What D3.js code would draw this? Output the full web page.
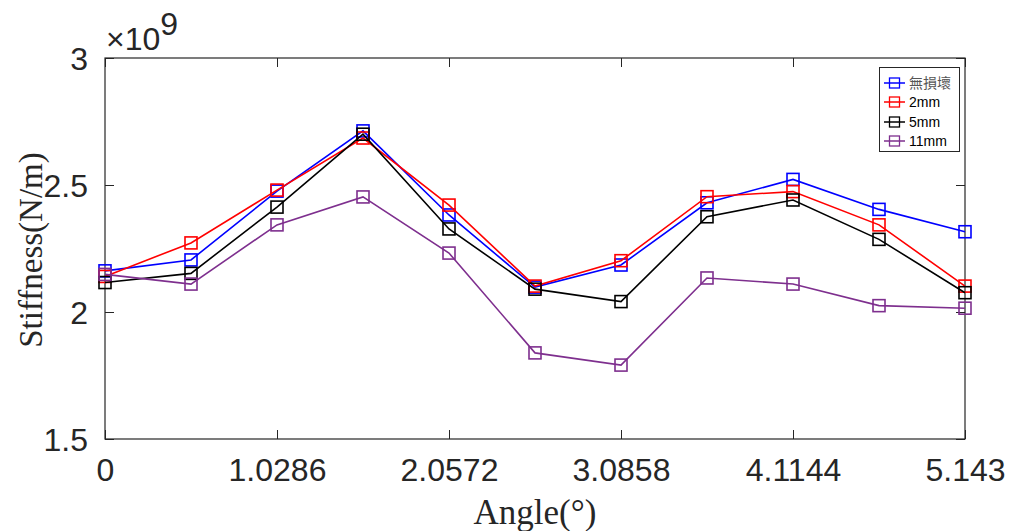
<!DOCTYPE html>
<html>
<head>
<meta charset="utf-8">
<script src="https://cdn.jsdelivr.net/npm/d3@7"></script>
<style>
  html, body { margin: 0; padding: 0; background: #fff; }
  svg { display: block; }
</style>
</head>
<body>
<svg id="chart" width="1013" height="531"></svg>
<script>
// Angle samples (degrees)
const angles = [0, 0.5143, 1.0286, 1.5429, 2.0572, 2.5715, 3.0858, 3.6001, 4.1144, 4.6287, 5.143];
const xTickValues = [0, 1.0286, 2.0572, 3.0858, 4.1144, 5.143];
const xTickLabels = ["0", "1.0286", "2.0572", "3.0858", "4.1144", "5.143"];
const yTickValues = [1.5, 2, 2.5, 3];
const yTickLabels = ["1.5", "2", "2.5", "3"];

// Stiffness in units of 1e9 N/m
const seriesNames = ["無損壞", "2mm", "5mm", "11mm"];
const seriesColors = ["#0000ff", "#ff0000", "#000000", "#7e2f8e"];
const intact = [2.162, 2.205, 2.476, 2.713, 2.382, 2.098, 2.185, 2.430, 2.522, 2.404, 2.316];
const crack2 = [2.140, 2.272, 2.480, 2.685, 2.421, 2.102, 2.202, 2.454, 2.474, 2.343, 2.102];
const crack5 = [2.116, 2.152, 2.413, 2.700, 2.327, 2.090, 2.041, 2.375, 2.441, 2.286, 2.076];
const crack11 = [2.148, 2.110, 2.343, 2.453, 2.232, 1.839, 1.791, 2.134, 2.110, 2.025, 2.015];
const seriesValues = [intact, crack2, crack5, crack11];

const svg = d3.select("#chart");
const L = 105, R = 965, T = 58, B = 439;
const axisColor = "#262626";

const x = d3.scaleLinear().domain([0, 5.143]).range([L, R]);
const y = d3.scaleLinear().domain([1.5, 3]).range([B, T]);

// Axes with inward ticks on all four sides
const tickLen = 9;
const xAxis = d3.axisBottom(x).tickValues(xTickValues)
  .tickFormat((d, i) => xTickLabels[i]).tickSizeInner(-tickLen).tickSizeOuter(0).tickPadding(tickLen + 10);
const yAxis = d3.axisLeft(y).tickValues(yTickValues)
  .tickFormat((d, i) => yTickLabels[i]).tickSizeInner(-tickLen).tickSizeOuter(0).tickPadding(tickLen + 8);

const gx = svg.append("g").attr("transform", `translate(0,${B})`).call(xAxis);
const gy = svg.append("g").attr("transform", `translate(${L},0)`).call(yAxis);
const gxTop = svg.append("g").attr("transform", `translate(0,${T})`)
  .call(d3.axisTop(x).tickValues(xTickValues).tickFormat("").tickSizeInner(-tickLen).tickSizeOuter(0));
const gyRight = svg.append("g").attr("transform", `translate(${R},0)`)
  .call(d3.axisRight(y).tickValues(yTickValues).tickFormat("").tickSizeInner(-tickLen).tickSizeOuter(0));

[gx, gy, gxTop, gyRight].forEach(g => {
  g.select(".domain").remove();
  g.selectAll(".tick line").attr("stroke", axisColor).attr("stroke-width", 1);
  g.selectAll(".tick text")
    .attr("fill", axisColor)
    .style("font-family", "'Liberation Sans', Arial, sans-serif")
    .style("font-size", "32px");
});
gx.selectAll(".tick text").attr("dy", "0.71em");
gy.selectAll(".tick text").attr("dy", "0.36em");

// Frame
svg.append("rect")
  .attr("x", L).attr("y", T).attr("width", R - L).attr("height", B - T)
  .attr("fill", "none").attr("stroke", axisColor).attr("stroke-width", 1.2);

// Exponent label
const expo = svg.append("text")
  .attr("x", 106).attr("y", 50)
  .attr("fill", axisColor)
  .style("font-family", "'Liberation Sans', Arial, sans-serif")
  .style("font-size", "32px");
expo.append("tspan").style("font-weight", "300").text("×10");
expo.append("tspan").attr("dy", -15).text("9");

// Axis titles
svg.append("text")
  .attr("x", 535).attr("y", 524)
  .attr("text-anchor", "middle")
  .attr("fill", axisColor)
  .style("font-family", "'Liberation Serif', 'Times New Roman', serif")
  .style("font-size", "35px")
  .text("Angle(°)");

svg.append("text")
  .attr("transform", "translate(42,250) rotate(-90)")
  .attr("text-anchor", "middle")
  .attr("fill", axisColor)
  .style("font-family", "'Liberation Serif', 'Times New Roman', serif")
  .style("font-size", "33px")
  .text("Stiffness(N/m)");

// Series lines and square markers
const line = d3.line().x((d, i) => x(angles[i])).y(d => y(d));
const mk = 12;
seriesValues.forEach((vals, s) => {
  const g = svg.append("g");
  g.append("path")
    .datum(vals)
    .attr("d", line)
    .attr("fill", "none")
    .attr("stroke", seriesColors[s])
    .attr("stroke-width", 1.6);
  g.selectAll("rect")
    .data(vals)
    .join("rect")
    .attr("x", (d, i) => x(angles[i]) - mk / 2)
    .attr("y", d => y(d) - mk / 2)
    .attr("width", mk).attr("height", mk)
    .attr("fill", "none")
    .attr("stroke", seriesColors[s])
    .attr("stroke-width", 1.6);
});

// Legend
const lg = svg.append("g");
lg.append("rect")
  .attr("x", 879.5).attr("y", 67.5).attr("width", 80).attr("height", 84)
  .attr("fill", "#fff").attr("stroke", axisColor).attr("stroke-width", 1);
const rowY = [83, 102, 122, 141];
seriesNames.forEach((name, s) => {
  const yy = rowY[s];
  lg.append("line")
    .attr("x1", 884).attr("x2", 905).attr("y1", yy).attr("y2", yy)
    .attr("stroke", seriesColors[s]).attr("stroke-width", 1.5);
  lg.append("rect")
    .attr("x", 894.5 - 5).attr("y", yy - 5).attr("width", 10).attr("height", 10)
    .attr("fill", "none").attr("stroke", seriesColors[s]).attr("stroke-width", 1.3);
  lg.append("text")
    .attr("x", 909).attr("y", yy).attr("dy", "0.36em")
    .attr("fill", s === 0 ? "#555" : "#000")
    .style("font-family", s === 0 ? "'Noto Sans CJK TC', sans-serif" : "'Liberation Sans', Arial, sans-serif")
    .style("font-size", "14px")
    .text(name);
});
</script>
</body>
</html>
